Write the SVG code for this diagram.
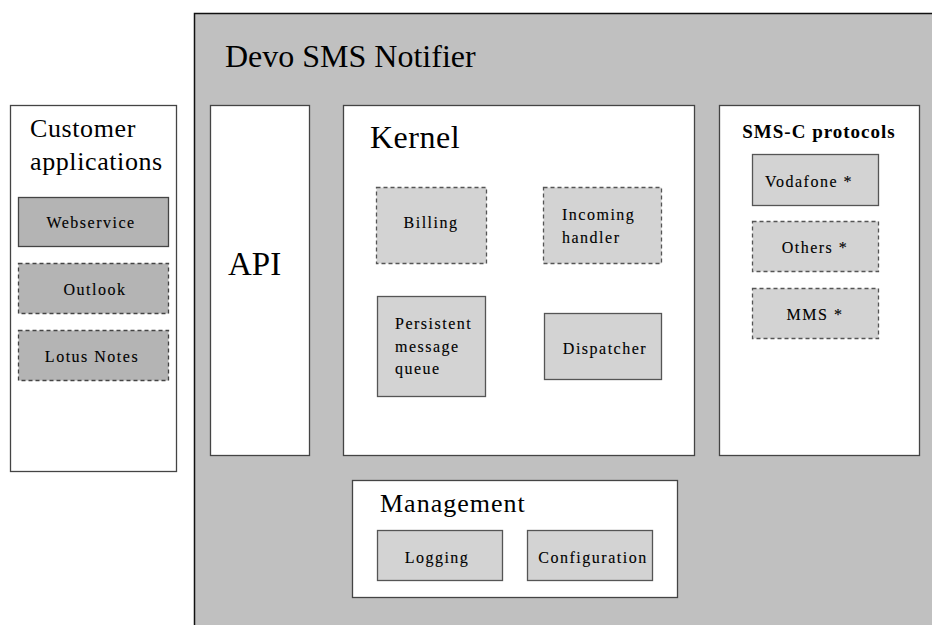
<svg xmlns="http://www.w3.org/2000/svg" width="932" height="625" viewBox="0 0 932 625" font-family="'Liberation Serif', 'Times New Roman', serif">
  <style>
    .panel { fill: #ffffff; stroke: #444444; stroke-width: 1.3; }
    .box { fill: #d3d3d3; stroke: #555555; stroke-width: 1.3; }
    .box-dk { fill: #b4b4b4; stroke: #444444; stroke-width: 1.3; }
    .dashed { stroke-dasharray: 4 3; }
    text { font-family: 'Liberation Serif', 'Times New Roman', serif; fill: #000000; }
    .lbl { font-size: 16px; letter-spacing: 1.5px; text-anchor: middle; stroke: #000000; stroke-width: 0.12; }
    .lbl-l { font-size: 16px; letter-spacing: 1.5px; stroke: #000000; stroke-width: 0.12; }
  </style>
  <rect width="932" height="625" fill="#ffffff"/>

  <!-- Outer system frame -->
  <g id="devo-sms-notifier">
    <rect x="194.5" y="13.5" width="745" height="620" fill="#c0c0c0" stroke="#111111" stroke-width="1.5"/>
    <text x="225" y="67" font-size="32">Devo SMS Notifier</text>
  </g>

  <!-- Customer applications -->
  <g id="customer-applications">
    <rect class="panel" x="10.5" y="105.5" width="166" height="366"/>
    <text x="30" y="137" font-size="26" letter-spacing="0.6">Customer</text>
    <text x="30" y="170" font-size="26" letter-spacing="0.6">applications</text>
  </g>
  <g id="webservice">
    <rect class="box-dk" x="18.5" y="197.5" width="150" height="49"/>
    <text class="lbl" x="91" y="228">Webservice</text>
  </g>
  <g id="outlook">
    <rect class="box-dk dashed" x="18.5" y="263.5" width="150" height="50"/>
    <text class="lbl" x="95" y="295">Outlook</text>
  </g>
  <g id="lotus-notes">
    <rect class="box-dk dashed" x="18.5" y="330.5" width="150" height="50"/>
    <text class="lbl" x="92" y="362">Lotus Notes</text>
  </g>

  <!-- API -->
  <g id="api">
    <rect class="panel" x="210.5" y="105.5" width="99" height="350"/>
    <text x="228" y="275" font-size="33">API</text>
  </g>

  <!-- Kernel -->
  <g id="kernel">
    <rect class="panel" x="343.5" y="105.5" width="351" height="350"/>
    <text x="370" y="148" font-size="32" letter-spacing="0.5">Kernel</text>
  </g>
  <g id="billing">
    <rect class="box dashed" x="376.5" y="187.5" width="110" height="76"/>
    <text class="lbl" x="431" y="228">Billing</text>
  </g>
  <g id="incoming-handler">
    <rect class="box dashed" x="543.5" y="187.5" width="118" height="76"/>
    <text class="lbl-l" x="562" y="220">Incoming</text>
    <text class="lbl-l" x="562" y="243">handler</text>
  </g>
  <g id="persistent-message-queue">
    <rect class="box" x="377.5" y="296.5" width="108" height="100"/>
    <text class="lbl-l" x="395" y="329">Persistent</text>
    <text class="lbl-l" x="395" y="352">message</text>
    <text class="lbl-l" x="395" y="374">queue</text>
  </g>
  <g id="dispatcher">
    <rect class="box" x="544.5" y="313.5" width="117" height="66"/>
    <text class="lbl" x="605" y="354">Dispatcher</text>
  </g>

  <!-- SMS-C protocols -->
  <g id="smsc-protocols">
    <rect class="panel" x="719.5" y="105.5" width="200" height="350"/>
    <text x="819" y="138" font-size="19" font-weight="bold" letter-spacing="1" text-anchor="middle">SMS-C protocols</text>
  </g>
  <g id="vodafone">
    <rect class="box" x="752.5" y="154.5" width="126" height="51"/>
    <text class="lbl" x="809" y="187">Vodafone *</text>
  </g>
  <g id="others">
    <rect class="box dashed" x="752.5" y="221.5" width="126" height="50"/>
    <text class="lbl" x="815" y="253">Others *</text>
  </g>
  <g id="mms">
    <rect class="box dashed" x="752.5" y="288.5" width="126" height="50"/>
    <text class="lbl" x="815" y="320">MMS *</text>
  </g>

  <!-- Management -->
  <g id="management">
    <rect class="panel" x="352.5" y="480.5" width="325" height="117"/>
    <text x="380" y="512" font-size="26" letter-spacing="1">Management</text>
  </g>
  <g id="logging">
    <rect class="box" x="377.5" y="530.5" width="125" height="50"/>
    <text class="lbl" x="437" y="563">Logging</text>
  </g>
  <g id="configuration">
    <rect class="box" x="527.5" y="530.5" width="125" height="50"/>
    <text class="lbl" x="593" y="563">Configuration</text>
  </g>

  <!-- No connectors in this diagram -->
  <g id="connectors"/>
</svg>
